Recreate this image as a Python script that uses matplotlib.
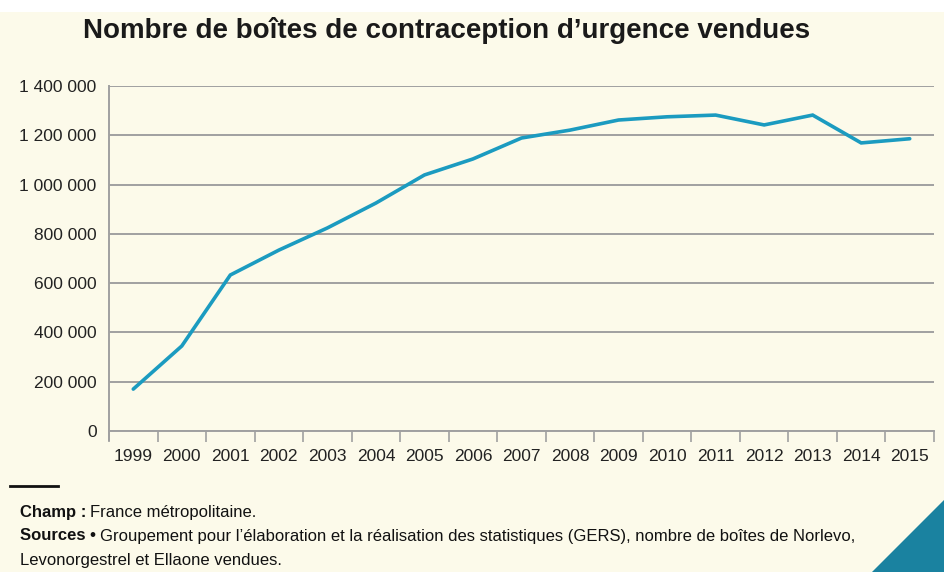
import matplotlib.pyplot as plt
import numpy as np
from matplotlib.ticker import FuncFormatter, FixedLocator
from matplotlib.patches import Polygon

# données (lecture du graphique)
annees = ['1999', '2000', '2001', '2002', '2003', '2004', '2005', '2006', '2007',
          '2008', '2009', '2010', '2011', '2012', '2013', '2014', '2015']
boites = [170000, 345000, 633000, 734000, 824000, 925000, 1039000, 1104000, 1189000,
          1221000, 1262000, 1275000, 1282000, 1242000, 1282000, 1169000, 1186000]
yticks = [0, 200000, 400000, 600000, 800000, 1000000, 1200000, 1400000]

fond = '#fcfaea'
bleu = '#1b9bc0'
gris = '#a0a0a0'
police = ['Liberation Sans Narrow', 'Liberation Sans', 'DejaVu Sans']

plt.rcParams['font.family'] = police

fig = plt.figure(figsize=(9.44, 5.72), dpi=100)
fig.patch.set_facecolor('white')
# fond crème sous le bandeau blanc
fig.patches.append(plt.Rectangle((0, 0), 1, 1 - 12 / 572, transform=fig.transFigure,
                                 facecolor=fond, edgecolor='none', zorder=-2))
# triangle en bas à droite
fig.patches.append(Polygon([(872 / 944, 0), (1, 0), (1, 72 / 572)], closed=True,
                           transform=fig.transFigure, facecolor='#1a82a0',
                           edgecolor='none', zorder=-1))

ax = fig.add_axes([109 / 944, 1 - 431 / 572, 825 / 944, 345 / 572])
ax.set_facecolor('none')

x = np.arange(len(annees))
ax.plot(x, boites, color=bleu, lw=2.6, solid_capstyle='round', solid_joinstyle='miter', zorder=3)

ax.set_xlim(-0.5, len(annees) - 0.5)
ax.set_ylim(0, 1400000)
ax.set_yticks(yticks)
ax.yaxis.set_major_formatter(FuncFormatter(lambda v, p: f'{int(v):,}'.replace(',', ' ')))
ax.grid(axis='y', color=gris, lw=1.4)
ax.set_axisbelow(True)

ax.set_xticks(x)
ax.set_xticklabels(annees)
ax.xaxis.set_minor_locator(FixedLocator(np.arange(-0.5, len(annees), 1.0)))
ax.tick_params(axis='x', which='major', length=0, pad=13, labelsize=12.5, labelcolor='#222222')
ax.tick_params(axis='x', which='minor', length=8, width=1.2, color=gris)
ax.tick_params(axis='y', length=0, pad=9, labelsize=12.5, labelcolor='#222222')

for s in ['top', 'right']:
    ax.spines[s].set_visible(False)
ax.spines['left'].set_color(gris)
ax.spines['left'].set_linewidth(1.4)
ax.spines['left'].set_bounds(-35000, 1400000)
ax.spines['bottom'].set_color(gris)
ax.spines['bottom'].set_linewidth(1.4)

fig.text(83 / 944, 1 - 31 / 572, 'Nombre de boîtes de contraception d\u2019urgence vendues',
         fontsize=20, fontweight='bold', color='#1a1a1a', va='center', ha='left')

# filet et notes
fig.add_artist(plt.Line2D([10 / 944, 58 / 944], [1 - 486 / 572] * 2, color='#111111', lw=2,
                          transform=fig.transFigure))

renderer = fig.canvas.get_renderer()


def ligne_note(y, gras, texte):
    t = fig.text(20 / 944, 1 - y / 572, gras, fontsize=12, fontweight='bold', va='center',
                 color='#111111')
    if texte:
        bb = t.get_window_extent(renderer)
        fig.text((bb.x1 + 4) / 944, 1 - y / 572, texte, fontsize=12, va='center', color='#111111')


ligne_note(512, 'Champ :', 'France métropolitaine.')
ligne_note(536, 'Sources \u2022', 'Groupement pour l\u2019élaboration et la réalisation des statistiques '
           '(GERS), nombre de boîtes de Norlevo,')
fig.text(20 / 944, 1 - 560 / 572, 'Levonorgestrel et Ellaone vendues.', fontsize=12, va='center',
         color='#111111')

fig.savefig('out.png', dpi=100, facecolor=fig.get_facecolor())
